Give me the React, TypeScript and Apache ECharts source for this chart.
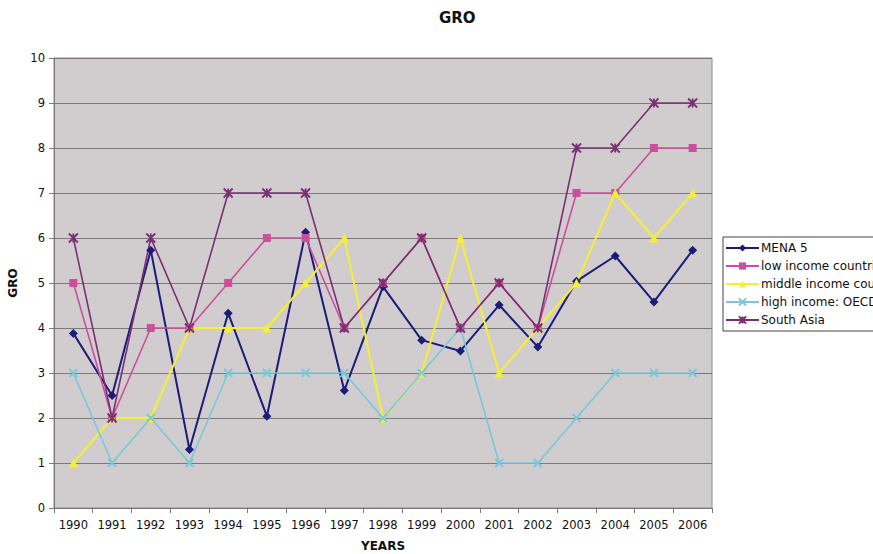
import React, { useEffect, useRef } from "react";
import * as echarts from "echarts";

const years = ["1990","1991","1992","1993","1994","1995","1996","1997","1998","1999","2000","2001","2002","2003","2004","2005","2006"];
const mena5 = [3.88, 2.5, 5.73, 1.3, 4.33, 2.04, 6.13, 2.61, 4.92, 3.73, 3.49, 4.51, 3.58, 5.04, 5.6, 4.58, 5.73];
const lowIncome = [5, 2, 4, 4, 5, 6, 6, 4, 5, 6, 4, 5, 4, 7, 7, 8, 8];
const middleIncome = [1, 2, 2, 4, 4, 4, 5, 6, 2, 3, 6, 3, 4, 5, 7, 6, 7];
const highIncome = [3, 1, 2, 1, 3, 3, 3, 3, 2, 3, 4, 1, 1, 2, 3, 3, 3];
const southAsia = [6, 2, 6, 4, 7, 7, 7, 4, 5, 6, 4, 5, 4, 8, 8, 9, 9];
const legendNames = ["MENA 5", "low income countries", "middle income countries", "high income: OECD", "South Asia"];

const crossSymbol = "path://M0,0L10,10M10,0L0,10";
const starSymbol = "path://M0,0L10,10M10,0L0,10M5,0L5,10";

const font = "DejaVu Sans, Verdana, sans-serif";

function makeSeries(name: string, data: number[], color: string, symbol: string, size: number, stroke: boolean, width = 1.6) {
  return {
    name,
    type: "line",
    data,
    symbol,
    symbolSize: size,
    showSymbol: true,
    lineStyle: { color, width },
    itemStyle: stroke
      ? { color: "rgba(0,0,0,0)", borderColor: color, borderWidth: 1.8 }
      : { color, borderColor: color, borderWidth: 0 },
  };
}

export default function App() {
  const ref = useRef<HTMLDivElement>(null);
  useEffect(() => {
    if (!ref.current) return;
    const chart = echarts.init(ref.current, undefined, { renderer: "svg" });
    chart.setOption({
      animation: false,
      backgroundColor: "#ffffff",
      title: {
        text: "GRO",
        left: 434,
        top: 5,
        textStyle: { fontFamily: font, fontSize: 15, fontWeight: "bold", color: "#111" },
      },
      grid: {
        left: 54,
        right: 161,
        top: 58,
        bottom: 46,
        outerBoundsMode: "none",
        containLabel: false,
        show: true,
        backgroundColor: "#d1cdcf",
        borderColor: "#8c8c8c",
        borderWidth: 1,
      },
      legend: {
        orient: "vertical",
        left: 723,
        top: 237,
        itemWidth: 33,
        itemHeight: 9,
        itemGap: 6,
        padding: [5, 8, 5, 2],
        borderColor: "#444",
        borderWidth: 1,
        backgroundColor: "#ffffff",
        textStyle: { fontFamily: font, fontSize: 12, color: "#111", padding: [0, 0, 0, -3] },
        data: legendNames,
      },
      xAxis: {
        type: "category",
        data: years,
        boundaryGap: true,
        name: "YEARS",
        nameLocation: "middle",
        nameGap: 32,
        nameTextStyle: { fontFamily: font, fontSize: 12, fontWeight: "bold", color: "#111" },
        axisLine: { lineStyle: { color: "#777", width: 1 } },
        axisTick: { show: true, length: 5, lineStyle: { color: "#777" } },
        axisLabel: { fontFamily: font, fontSize: 11.5, color: "#111", margin: 11 },
        splitLine: { show: false },
      },
      yAxis: {
        type: "value",
        min: 0,
        max: 10,
        interval: 1,
        name: "GRO",
        nameLocation: "middle",
        nameGap: 33,
        nameRotate: 90,
        nameTextStyle: { fontFamily: font, fontSize: 12, fontWeight: "bold", color: "#111" },
        axisLine: { show: true, lineStyle: { color: "#777", width: 1 } },
        axisTick: { show: true, length: 5, lineStyle: { color: "#777" } },
        axisLabel: { fontFamily: font, fontSize: 11.5, color: "#111", margin: 9 },
        splitLine: { show: true, lineStyle: { color: "#7a7a7a", width: 1 } },
      },
      series: [
        makeSeries("MENA 5", mena5, "#1c1c78", "diamond", 9, false, 2),
        makeSeries("low income countries", lowIncome, "#cc4f9c", "rect", 8, false),
        makeSeries("middle income countries", middleIncome, "#f5f032", "triangle", 9, false, 2),
        makeSeries("high income: OECD", highIncome, "#78c8d8", crossSymbol, 8, true),
        makeSeries("South Asia", southAsia, "#7a2f72", starSymbol, 9, true),
      ],
    });
    return () => chart.dispose();
  }, []);
  return (
    <div
      ref={ref}
      style={{ position: "fixed", left: 0, top: 0, width: 873, height: 554, background: "#fff" }}
    />
  );
}
